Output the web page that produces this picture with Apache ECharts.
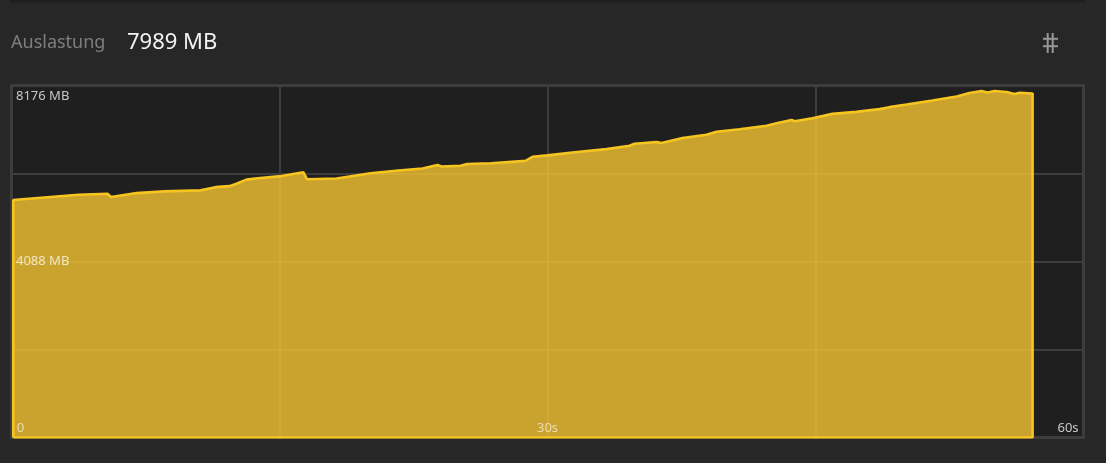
<!DOCTYPE html>
<html>
<head>
<meta charset="utf-8">
<script src="https://cdn.jsdelivr.net/npm/echarts@6/dist/echarts.min.js"></script>
<style>
html,body{margin:0;padding:0;background:#272727;}
#chart{width:1106px;height:463px;}
</style>
</head>
<body>
<div id="chart"></div>
<script>
// ---- data ----
const seriesName = 'Auslastung';
const unit = 'MB';
const times = [0.1, 3.74, 5.37, 5.57, 7.0, 8.56, 10.58, 11.42, 12.2, 12.59,
  13.15, 13.77, 15.11, 16.34, 16.54, 18.19, 20.09, 21.66, 23.0, 23.84,
  24.07, 25.13, 25.5, 26.84, 28.77, 29.16, 30.0, 31.4, 33.3, 34.59,
  34.87, 36.1, 36.38, 37.56, 38.9, 39.46, 40.75, 42.26, 42.82, 43.66,
  43.83, 44.83, 45.95, 47.29, 48.58, 49.14, 50.1, 51.55, 52.9, 53.62,
  54.29, 54.63, 55.02, 55.69, 56.14, 56.42, 57.15];
const values = [5518, 5637, 5660, 5588, 5677, 5716, 5740, 5815, 5838, 5894,
  5990, 6020, 6072, 6161, 5997, 6016, 6137, 6200, 6247, 6329,
  6296, 6313, 6352, 6369, 6425, 6521, 6553, 6621, 6698, 6776,
  6822, 6862, 6839, 6956, 7033, 7103, 7159, 7243, 7299, 7376,
  7346, 7416, 7517, 7563, 7627, 7673, 7734, 7828, 7921, 8001,
  8047, 8015, 8047, 8024, 7977, 8008, 7989];
const yMax = 8176;
const yLabelValues = [4088, 8176];
const yLabelTexts = ['4088 MB', '8176 MB'];
const xMax = 60;
const xLabelValues = [0, 30, 60];
const xLabelTexts = ['0', '30s', '60s'];

// ---- build ----
const pts = times.map((t, i) => [t, values[i]]);
const first = times[0], last = times[times.length - 1];
const data = [[first, 0]].concat(pts, [[last, 0], [first, 0]]);
const current = values[values.length - 1] + ' ' + unit;

const FONT = '"Noto Sans", "Open Sans", sans-serif';
const LBL = 'rgba(255,255,255,0.74)';
const LBL2 = 'rgba(255,255,255,0.62)';
const gridLine = {show: true, lineStyle: {color: '#3d3d3d', width: 2}};

const xBase = {type: 'value', min: 0, max: xMax, interval: 15, axisLine: {show: false}, axisTick: {show: false}};
const yBase = {type: 'value', min: 0, max: yMax, interval: yMax / 4, axisLine: {show: false}, axisTick: {show: false}};

const chart = echarts.init(document.getElementById('chart'), null, {renderer: 'canvas'});
chart.setOption({
  backgroundColor: '#272727',
  animation: false,
  grid: {
    left: 11.5, right: 1106 - 1083.5, top: 85.5, bottom: 463 - 437.5,
    show: true, backgroundColor: '#1f1f1f', borderColor: '#3d3d3d', borderWidth: 3
  },
  xAxis: [
    Object.assign({}, xBase, {splitLine: gridLine, axisLabel: {show: false}, z: 0}),
    Object.assign({}, xBase, {
      position: 'bottom', splitLine: {show: false}, z: 10,
      axisLabel: {
        inside: true, margin: 3, color: LBL, fontSize: 13, fontFamily: FONT,
        formatter: function (v) {
          const i = xLabelValues.indexOf(v);
          if (i < 0) return '';
          if (i === 0) return '{l|' + xLabelTexts[i] + '}';
          if (i === xLabelValues.length - 1) return '{r|' + xLabelTexts[i] + '}';
          return '{c|' + xLabelTexts[i] + '}';
        },
        rich: {
          l: {padding: [0, 0, 0, 18], fontSize: 13, fontFamily: FONT, color: LBL2},
          c: {fontSize: 13, fontFamily: FONT, color: LBL2},
          r: {padding: [0, 31, 0, 0], fontSize: 13, fontFamily: FONT, color: LBL}
        }
      }
    })
  ],
  yAxis: [
    Object.assign({}, yBase, {splitLine: gridLine, axisLabel: {show: false}, z: 0}),
    Object.assign({}, yBase, {
      position: 'left', splitLine: {show: false}, z: 10,
      axisLabel: {
        inside: true, margin: 4.5, color: LBL, fontSize: 13, fontFamily: FONT,
        showMaxLabel: true,
        formatter: function (v) {
          const i = yLabelValues.indexOf(v);
          if (i < 0) return '';
          if (v === yMax) return '{t|' + yLabelTexts[i] + '}';
          return '{m|' + yLabelTexts[i] + '}';
        },
        rich: {
          t: {padding: [21, 0, 0, 0], fontSize: 13, fontFamily: FONT, color: LBL},
          m: {fontSize: 13, fontFamily: FONT, color: 'rgba(255,255,255,0.72)'}
        }
      }
    })
  ],
  series: [{
    name: seriesName,
    type: 'line',
    xAxisIndex: 0, yAxisIndex: 0,
    data: data,
    showSymbol: false,
    symbol: 'none',
    lineStyle: {color: '#f7c520', width: 2.6},
    areaStyle: {color: 'rgba(255,205,50,0.76)', opacity: 1, origin: 'start'},
    z: 3
  }],
  graphic: [
    {type: 'rect', shape: {x: 10, y: 0, width: 1075, height: 2.5}, style: {fill: '#1f1f1f'}, silent: true},
    {type: 'text', x: 11, y: 43, style: {text: seriesName, font: '18px ' + FONT, fill: '#7e7e7e', verticalAlign: 'middle'}},
    {type: 'text', x: 127, y: 43, style: {text: current, font: '22px ' + FONT, fill: '#f2f2f2', verticalAlign: 'middle'}},
    {type: 'line', shape: {x1: 1047.7, y1: 33, x2: 1047.7, y2: 53}, style: {stroke: '#979797', lineWidth: 2}},
    {type: 'line', shape: {x1: 1052.7, y1: 33, x2: 1052.7, y2: 53}, style: {stroke: '#979797', lineWidth: 2}},
    {type: 'line', shape: {x1: 1043, y1: 38.8, x2: 1058, y2: 38.8}, style: {stroke: '#979797', lineWidth: 2}},
    {type: 'line', shape: {x1: 1043, y1: 46.2, x2: 1058, y2: 46.2}, style: {stroke: '#979797', lineWidth: 2}}
  ]
});
</script>
</body>
</html>
